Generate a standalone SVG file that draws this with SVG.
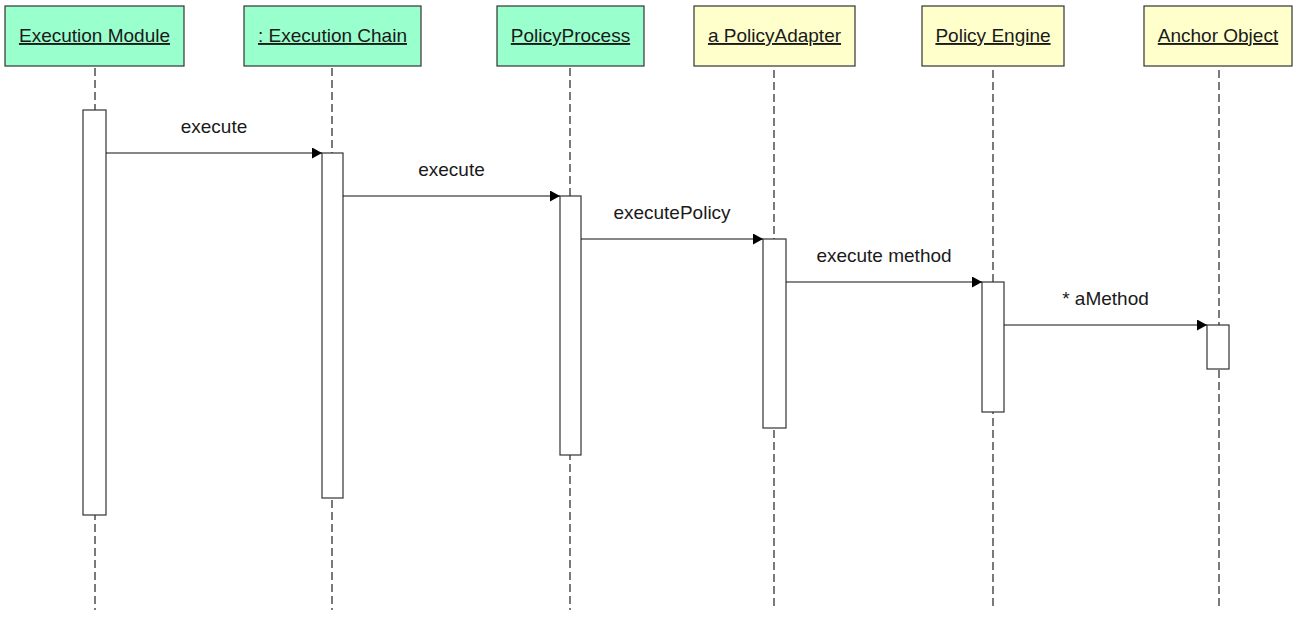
<svg xmlns="http://www.w3.org/2000/svg" width="1301" height="617" viewBox="0 0 1301 617">
  <style>
    .head { stroke: #333333; stroke-width: 1.2; }
    .green { fill: #99FFCC; }
    .yellow { fill: #FFFFCC; }
    .title { font-family: "Liberation Sans", Arial, sans-serif; font-size: 19px; fill: #1a1a1a; text-anchor: middle; text-decoration: underline; }
    .life { stroke: #222222; stroke-width: 1.2; stroke-dasharray: 8 4; fill: none; }
    .act { fill: #FFFFFF; stroke: #333333; stroke-width: 1.2; }
    .msg { stroke: #111111; stroke-width: 1.2; fill: none; marker-end: url(#arrow); }
    .label { font-family: "Liberation Sans", Arial, sans-serif; font-size: 19px; fill: #1a1a1a; text-anchor: middle; }
  </style>
  <defs>
    <marker id="arrow" viewBox="0 0 10 11" refX="10" refY="5.5" markerWidth="10" markerHeight="11" markerUnits="userSpaceOnUse" orient="auto">
      <path d="M0,0 L10,5.5 L0,11 Z" fill="#000000"/>
    </marker>
  </defs>

  <rect width="1301" height="617" fill="#FFFFFF"/>

  <!-- lifelines -->
  <g id="lifelines">
    <line class="life" x1="95" y1="68" x2="95" y2="610"/>
    <line class="life" x1="332" y1="68" x2="332" y2="610"/>
    <line class="life" x1="570" y1="68" x2="570" y2="610"/>
    <line class="life" x1="774" y1="70" x2="774" y2="610"/>
    <line class="life" x1="993" y1="70" x2="993" y2="610"/>
    <line class="life" x1="1219" y1="70" x2="1219" y2="610"/>
  </g>

  <!-- participants with their activation bars -->
  <g id="execution-module">
    <rect class="head green" x="5" y="6" width="179" height="60"/>
    <text class="title" x="94.5" y="42">Execution Module</text>
    <rect class="act" x="83" y="110" width="23" height="405"/>
  </g>
  <g id="execution-chain">
    <rect class="head green" x="244" y="6" width="177" height="60"/>
    <text class="title" x="332.5" y="42">: Execution Chain</text>
    <rect class="act" x="322" y="153" width="21" height="345"/>
  </g>
  <g id="policy-process">
    <rect class="head green" x="497" y="6" width="147" height="60"/>
    <text class="title" x="570.5" y="42">PolicyProcess</text>
    <rect class="act" x="560" y="196" width="21" height="259"/>
  </g>
  <g id="policy-adapter">
    <rect class="head yellow" x="694" y="6" width="161" height="60"/>
    <text class="title" x="774.5" y="42">a PolicyAdapter</text>
    <rect class="act" x="763" y="239" width="23" height="189"/>
  </g>
  <g id="policy-engine">
    <rect class="head yellow" x="922" y="6" width="142" height="60"/>
    <text class="title" x="993" y="42">Policy Engine</text>
    <rect class="act" x="982" y="282" width="22" height="130"/>
  </g>
  <g id="anchor-object">
    <rect class="head yellow" x="1144" y="6" width="148" height="60"/>
    <text class="title" x="1218" y="42">Anchor Object</text>
    <rect class="act" x="1207" y="325" width="22" height="44"/>
  </g>

  <!-- messages -->
  <g id="connectors">
    <line class="msg" x1="106" y1="153" x2="322" y2="153"/>
    <text class="label" x="214" y="133">execute</text>
    <line class="msg" x1="343" y1="196" x2="560" y2="196"/>
    <text class="label" x="451.5" y="176">execute</text>
    <line class="msg" x1="581" y1="239" x2="763" y2="239"/>
    <text class="label" x="672" y="219">executePolicy</text>
    <line class="msg" x1="786" y1="282" x2="982" y2="282"/>
    <text class="label" x="884" y="262">execute method</text>
    <line class="msg" x1="1004" y1="325" x2="1207" y2="325"/>
    <text class="label" x="1105.5" y="305">* aMethod</text>
  </g>
</svg>
